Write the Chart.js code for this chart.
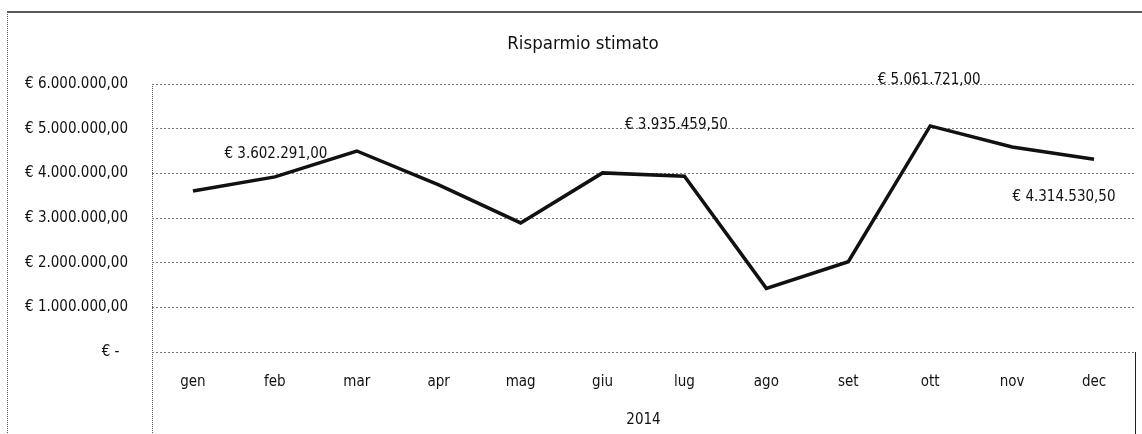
<!DOCTYPE html>
<html>
<head>
<meta charset="utf-8">
<script src="https://cdn.jsdelivr.net/npm/chart.js@4.4.1/dist/chart.umd.min.js"></script>
<style>
  html, body { margin: 0; padding: 0; background: #fff; }
  #wrap { width: 1142px; height: 434px; }
</style>
</head>
<body>
<div id="wrap"><canvas id="chart"></canvas></div>
<script>
const chartTitle = "Risparmio stimato";
const yearLabel = "2014";
const months = ["gen", "feb", "mar", "apr", "mag", "giu", "lug", "ago", "set", "ott", "nov", "dec"];
const savings = [3602291, 3920000, 4500000, 3740000, 2890000, 4010000, 3935459.5, 1425000, 2020000, 5061721, 4590000, 4314530.5];
const labelledMonths = [0, 6, 9, 11];
const yMin = 0;
const yMax = 6000000;
const yStep = 1000000;

const FONT = '"DejaVu Sans Condensed", "Liberation Sans", sans-serif';

// italian style money: € 3.602.291,00
function euro(v) {
  const parts = v.toFixed(2).split(".");
  const intPart = parts[0].replace(/\B(?=(\d{3})+(?!\d))/g, ".");
  return "€ " + intPart + "," + parts[1];
}

// where each data label sits, relative to its point
const labelOffsets = { 0: [83, -37], 6: [-8, -51], 9: [-1, -46], 11: [-30, 38] };

const framePlugin = {
  id: "frame",
  beforeDraw(chart) {
    const { ctx, chartArea, width, height } = chart;
    ctx.save();
    // outer chart border
    ctx.strokeStyle = "#222";
    ctx.lineWidth = 1.5;
    ctx.beginPath();
    ctx.moveTo(7, 12);
    ctx.lineTo(width, 12);
    ctx.stroke();
    ctx.setLineDash([1, 1]);
    ctx.lineWidth = 1;
    ctx.strokeStyle = "#555";
    ctx.beginPath();
    ctx.moveTo(7.5, 12);
    ctx.lineTo(7.5, height);
    // plot area sides
    ctx.moveTo(chartArea.left + 0.5, chartArea.top);
    ctx.lineTo(chartArea.left + 0.5, height);
    ctx.stroke();
    ctx.setLineDash([]);
    ctx.strokeStyle = "#222";
    ctx.beginPath();
    ctx.moveTo(chartArea.right + 0.5, chartArea.bottom);
    ctx.lineTo(chartArea.right + 0.5, height);
    ctx.stroke();

    ctx.fillStyle = "#111";
    ctx.font = "18.5px " + FONT;
    ctx.textAlign = "center";
    ctx.textBaseline = "middle";
    ctx.fillText(chartTitle, 583, 44);
    ctx.restore();
  },
  afterDatasetsDraw(chart) {
    const { ctx } = chart;
    const meta = chart.getDatasetMeta(0);
    ctx.save();
    ctx.fillStyle = "#111";
    ctx.font = "15px " + FONT;
    ctx.textAlign = "center";
    ctx.textBaseline = "middle";
    labelledMonths.forEach((i) => {
      const pt = meta.data[i];
      const off = labelOffsets[i] || [0, -20];
      ctx.fillText(euro(savings[i]), pt.x + off[0], pt.y + off[1]);
    });
    ctx.restore();
  }
};

new Chart(document.getElementById("chart"), {
  type: "line",
  data: {
    labels: months,
    datasets: [{
      label: chartTitle,
      data: savings,
      borderColor: "#111",
      borderWidth: 3.5,
      pointRadius: 0,
      tension: 0,
      fill: false
    }]
  },
  options: {
    responsive: true,
    maintainAspectRatio: false,
    animation: false,
    layout: { padding: { top: 84, right: 7, bottom: 0, left: 0 } },
    plugins: {
      legend: { display: false },
      title: { display: false },
      tooltip: { enabled: false }
    },
    scales: {
      x: {
        offset: true,
        grid: { display: false, drawTicks: false },
        border: { display: false },
        ticks: {
          color: "#111",
          font: { family: FONT, size: 15 },
          padding: 21,
          autoSkip: false,
          maxRotation: 0
        },
        title: {
          display: true,
          text: yearLabel,
          color: "#111",
          font: { family: FONT, size: 15 },
          padding: { top: 0, bottom: 5 }
        },
        afterFit(scale) { scale.height = 82; }
      },
      y: {
        min: yMin,
        max: yMax,
        grid: { color: "#777", lineWidth: 1, drawTicks: false },
        border: { display: false, dash: [2, 2] },
        ticks: {
          stepSize: yStep,
          color: "#111",
          font: { family: FONT, size: 15 },
          padding: 24,
          callback: (v) => (v === 0 ? "€ -  " : euro(v))
        },
        afterFit(scale) { scale.width = 152; }
      }
    }
  },
  plugins: [framePlugin]
});
</script>
</body>
</html>
